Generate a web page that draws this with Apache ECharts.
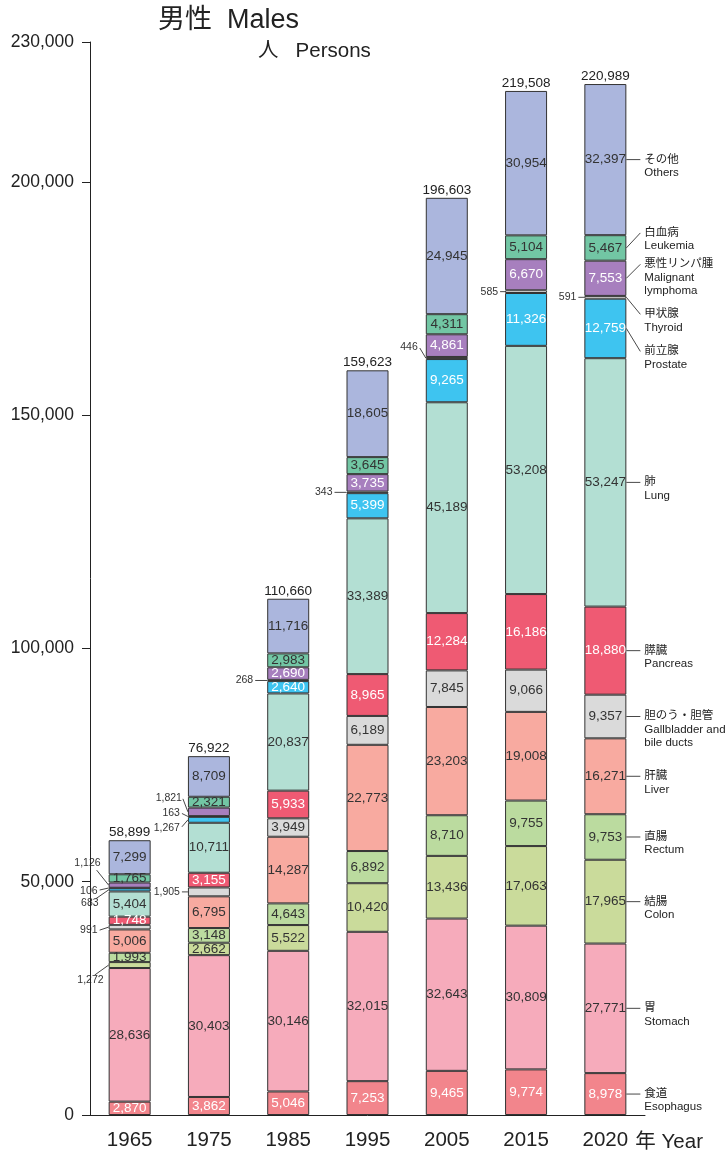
<!DOCTYPE html>
<html><head><meta charset="utf-8">
<script src="https://cdn.jsdelivr.net/npm/echarts@6/dist/echarts.min.js"></script>
<style>html,body{margin:0;padding:0;background:#fff}#c{width:728px;height:1151px}</style>
</head><body><div id="c"></div>
<script>
// ---- data ----
const years = ['1965','1975','1985','1995','2005','2015','2020'];
const namesJa = ['食道','胃','結腸','直腸','肝臓','胆のう・胆管','膵臓','肺','前立腺','甲状腺','悪性リンパ腫','白血病','その他'];
const namesEn = ['Esophagus','Stomach','Colon','Rectum','Liver','Gallbladder and\nbile ducts','Pancreas','Lung','Prostate','Thyroid','Malignant\nlymphoma','Leukemia','Others'];
const esophagus   = [2870, 3862, 5046, 7253, 9465, 9774, 8978];
const stomach     = [28636,30403,30146,32015,32643,30809,27771];
const colon       = [1272, 2662, 5522, 10420,13436,17063,17965];
const rectum      = [1993, 3148, 4643, 6892, 8710, 9755, 9753];
const liver       = [5006, 6795, 14287,22773,23203,19008,16271];
const gallbladder = [991,  1905, 3949, 6189, 7845, 9066, 9357];
const pancreas    = [1748, 3155, 5933, 8965, 12284,16186,18880];
const lung        = [5404, 10711,20837,33389,45189,53208,53247];
const prostate    = [683,  1267, 2640, 5399, 9265, 11326,12759];
const thyroid     = [106,  163,  268,  343,  446,  585,  591];
const lymphoma    = [1126, 1821, 2690, 3735, 4861, 6670, 7553];
const leukemia    = [1765, 2321, 2983, 3645, 4311, 5104, 5467];
const others      = [7299, 8709, 11716,18605,24945,30954,32397];
const allSeries = [esophagus,stomach,colon,rectum,liver,gallbladder,pancreas,lung,prostate,thyroid,lymphoma,leukemia,others];

// ---- styles ----
const colors = ['#f2858c','#f6abbb','#cadb9b','#bbdb9f','#f8aaa0','#dadada','#ef5a73','#b3dfd3','#3ec4f0','#ffffff','#a77fbe','#72c6a4','#abb6dd'];
const labelColors = ['#fff','#333','#333','#333','#333','#333','#fff','#333','#fff','#333','#fff','#333','#333'];
const FONT = "'Liberation Sans','Noto Sans CJK JP',Arial,sans-serif";
// outside labels (series, category) with offsets relative to bar left edge / segment middle
const outside = [
  {s:2,c:0,ax:-14,ay:10,tx:-5,ty:15},
  {s:5,c:0,ax:-9,ay:3,tx:-11,ty:3},
  {s:8,c:0,ax:-13,ay:9,tx:-10,ty:13},
  {s:9,c:0,ax:-9,ay:2,tx:-11,ty:3},
  {s:10,c:0,ax:-12,ay:-15,tx:-8,ty:-22},
  {s:5,c:1,ax:-6,ay:0,tx:-8,ty:0},
  {s:8,c:1,ax:-6,ay:7,tx:-8,ty:8},
  {s:9,c:1,ax:-6,ay:-3,tx:-8,ty:-3},
  {s:10,c:1,ax:-5,ay:-13,tx:-6,ty:-14},
  {s:9,c:2,ax:-12,ay:0,tx:-14,ty:0},
  {s:9,c:3,ax:-12,ay:0,tx:-14,ty:0},
  {s:9,c:4,ax:-6,ay:-10,tx:-8,ty:-11},
  {s:9,c:5,ax:-5,ay:0,tx:-7,ty:0},
  {s:9,c:6,ax:-6,ay:0,tx:-8,ty:0}
];
const rightDy = [0,0,0,0,0,0,0,0,23,17,-14,-15,0];
const BW = 42;
const fmt = v => Number(v).toLocaleString('en-US');
const isOutside = (s,c) => outside.some(o => o.s===s && o.c===c);

const chart = echarts.init(document.getElementById('c'));
const series = allSeries.map((arr, s) => ({
  type:'bar', stack:'total', name: namesEn[s], barWidth: BW,
  itemStyle:{color:colors[s], borderColor:'#333', borderWidth:1},
  label:{show:true, position:'inside', color:labelColors[s], fontSize:13.5, fontFamily:FONT, formatter: p => fmt(p.value)},
  emphasis:{disabled:true},
  data: arr.map((v,c) => isOutside(s,c) ? {value:v, label:{show:false}} : v)
}));

chart.setOption({
  animation:false,
  grid:{left:90, right:83, top:42, bottom:36},
  xAxis:{type:'category', data:years,
    axisLine:{lineStyle:{color:'#222', width:1}},
    axisTick:{length:10, lineStyle:{color:'#222'}},
    axisLabel:{fontSize:20.5, color:'#222', margin:15, fontFamily:FONT}},
  yAxis:{type:'value', min:0, max:230000, interval:50000,
    axisLine:{show:true, lineStyle:{color:'#222', width:1}},
    axisTick:{show:true, length:8, lineStyle:{color:'#222'}},
    splitLine:{show:false},
    axisLabel:{fontSize:17.5, color:'#222', margin:16, fontFamily:FONT, formatter: v => fmt(v)}},
  series
});

// ---- annotations computed from data via the chart's scales ----
const px = (c, v) => chart.convertToPixel({gridIndex:0}, [c, v]);
const g = [];
const lineStyle = {stroke:'#333', lineWidth:0.9};
function cum(c, s){ let t=0; for(let i=0;i<s;i++) t+=allSeries[i][c]; return t; }

// titles
g.push({type:'text', x:158, y:21, style:{text:'男性  Males', font:'27px '+FONT, fill:'#222', verticalAlign:'middle'}});
g.push({type:'text', x:258, y:51, style:{text:'人   Persons', font:'20.5px '+FONT, fill:'#222', verticalAlign:'middle'}});

// totals
years.forEach((y, c) => {
  const tot = cum(c, allSeries.length);
  const p = px(c, tot);
  g.push({type:'text', x:p[0], y:p[1]-1, style:{text:fmt(tot), font:'13.5px '+FONT, fill:'#222', align:'center', verticalAlign:'bottom'}});
});

// outside small labels
outside.forEach(o => {
  const lo = cum(o.c, o.s), hi = lo + allSeries[o.s][o.c];
  const p1 = px(o.c, lo), p2 = px(o.c, hi);
  const left = p1[0] - BW/2, mid = (p1[1] + p2[1]) / 2;
  g.push({type:'line', shape:{x1:left+o.ax, y1:mid+o.ay, x2:left, y2:mid}, style:lineStyle});
  g.push({type:'text', x:left+o.tx, y:mid+o.ty, style:{text:fmt(allSeries[o.s][o.c]), font:'10.5px '+FONT, fill:'#333', align:'right', verticalAlign:'middle'}});
});

// right-side names for last bar
const last = years.length - 1;
allSeries.forEach((arr, s) => {
  const lo = cum(last, s), hi = lo + arr[last];
  const p1 = px(last, lo), p2 = px(last, hi);
  const right = p1[0] + BW/2, mid = (p1[1] + p2[1]) / 2;
  const ty = mid + rightDy[s];
  g.push({type:'line', shape:{x1:right, y1:mid, x2:right+14, y2:ty}, style:lineStyle});
  g.push({type:'text', x:right+18, y:ty-7, style:{text:namesJa[s]+'\n'+namesEn[s], font:'11.5px '+FONT, lineHeight:13.5, fill:'#222', align:'left', verticalAlign:'top'}});
});

// x axis unit
const pl = px(last, 0);
g.push({type:'text', x:pl[0]+30, y:pl[1]+27, style:{text:'年 Year', font:'20.5px '+FONT, fill:'#222', align:'left', verticalAlign:'middle'}});

chart.setOption({graphic:g});
</script></body></html>
